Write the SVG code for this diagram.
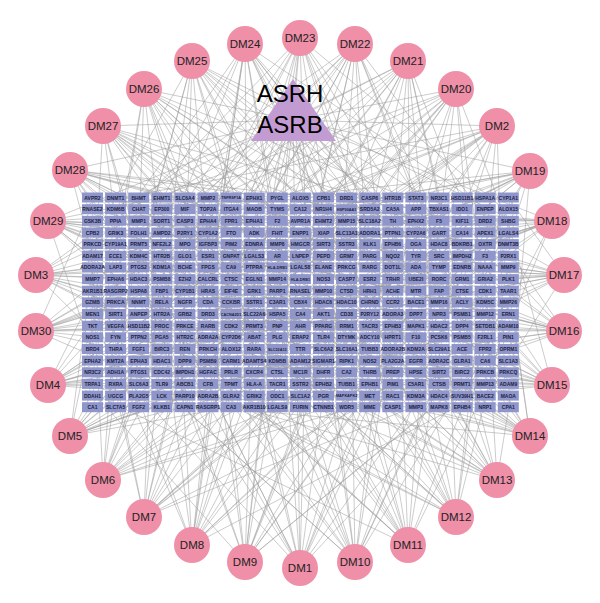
<svg xmlns="http://www.w3.org/2000/svg" xmlns:xlink="http://www.w3.org/1999/xlink" width="600" height="603" viewBox="0 0 600 603">
<style>
#edges path{stroke:#9a9a9a;stroke-width:.6;fill:none;stroke-opacity:.85}
#dms circle{fill:#EF8FA8}
#dms text{font-family:'Liberation Sans',Arial,sans-serif;font-size:11.5px;fill:#222;text-anchor:middle}
#genes use{fill:#8F96CC}
#genes text{font-family:'Liberation Sans',Arial,sans-serif;font-size:5px;font-weight:bold;fill:#1e1e3c;text-anchor:middle}
#genes text.s{font-size:3.8px}
#herb text{font-family:'Liberation Sans',Arial,sans-serif;font-size:24px;fill:#000;text-anchor:middle}
</style>
<defs><rect id="b" x="-10.5" y="-5" width="21" height="10"/></defs>
<rect width="600" height="603" fill="#fff"/>
<g id="edges">
<path d="M293 120L300 38M293 120L355 44M293 120L408 61M293 120L456 89M293 120L497 126M293 120L530 171M293 120L552 221M293 120L564 275M293 120L564 331M293 120L552 385M293 120L530 436M293 120L497 480M293 120L456 517M293 120L408 545M293 120L355 562M293 120L300 568M293 120L245 562M293 120L192 545M293 120L144 517M293 120L103 480M293 120L70 436M293 120L48 385M293 120L36 331M293 120L36 275M293 120L48 221M293 120L70 170M293 120L103 126M293 120L144 89M293 120L192 61M293 120L245 44"/>
<path d="M300 38L95 250M300 38L140 330M300 38L180 210M300 38L210 395M300 38L255 300M300 38L280 220M300 38L310 370M300 38L335 260M300 38L360 200M300 38L390 320M300 38L420 240M300 38L455 390M300 38L480 280M300 38L505 210M300 38L120 400M300 38L230 260"/>
<path d="M355 44L100 300M355 44L130 205M355 44L170 380M355 44L200 260M355 44L240 330M355 44L270 200M355 44L300 280M355 44L330 400M355 44L365 230M355 44L395 350M355 44L430 205M355 44L460 300M355 44L490 390M355 44L510 250M355 44L150 240M355 44L285 350"/>
<path d="M408 61L90 220M408 61L125 350M408 61L165 265M408 61L195 205M408 61L225 400M408 61L260 240M408 61L295 330M408 61L325 210M408 61L350 300M408 61L380 380M408 61L410 250M408 61L445 220M408 61L470 340M408 61L500 300M408 61L215 300M408 61L440 400"/>
<path d="M456 89L95 380M456 89L120 240M456 89L150 200M456 89L185 320M456 89L220 230M456 89L250 370M456 89L280 290M456 89L315 240M456 89L345 390M456 89L370 210M456 89L400 300M456 89L435 260M456 89L465 200M456 89L495 360M456 89L510 230M456 89L175 400"/>
<path d="M497 126L90 290M497 126L110 200M497 126L145 395M497 126L175 250M497 126L205 340M497 126L240 210M497 126L265 280M497 126L300 400M497 126L330 230M497 126L360 330M497 126L390 200M497 126L420 370M497 126L450 240M497 126L480 310M497 126L505 390M497 126L320 310"/>
<path d="M530 171L88 330M530 171L115 260M530 171L160 210M530 171L190 370M530 171L230 290M530 171L260 390M530 171L290 215M530 171L320 340M530 171L350 260M530 171L385 400M530 171L415 230M530 171L440 330M530 171L470 200M530 171L500 270M530 171L515 350M530 171L200 230"/>
<path d="M552 221L90 200M552 221L120 380M552 221L150 290M552 221L185 220M552 221L215 350M552 221L250 250M552 221L285 400M552 221L310 300M552 221L345 215M552 221L375 360M552 221L405 280M552 221L430 210M552 221L465 390M552 221L490 240M552 221L512 320M552 221L160 340"/>
<path d="M564 275L85 250M564 275L110 360M564 275L140 215M564 275L175 300M564 275L205 395M564 275L235 230M564 275L270 330M564 275L305 205M564 275L335 380M564 275L365 280M564 275L395 220M564 275L425 350M564 275L455 270M564 275L485 400M564 275L510 200M564 275L240 300"/>
<path d="M564 331L95 210M564 331L125 300M564 331L155 390M564 331L190 240M564 331L220 320M564 331L250 205M564 331L280 370M564 331L315 270M564 331L345 330M564 331L375 200M564 331L400 390M564 331L435 290M564 331L460 220M564 331L495 350M564 331L515 260M564 331L130 260"/>
<path d="M552 385L90 370M552 385L115 230M552 385L150 320M552 385L180 200M552 385L210 280M552 385L245 400M552 385L275 250M552 385L300 330M552 385L330 210M552 385L360 350M552 385L390 270M552 385L420 400M552 385L450 230M552 385L475 300M552 385L505 210M552 385L190 360"/>
<path d="M530 436L100 260M530 436L135 400M530 436L165 230M530 436L195 330M530 436L225 210M530 436L260 300M530 436L290 380M530 436L320 240M530 436L355 320M530 436L385 205M530 436L410 360M530 436L440 280M530 436L470 390M530 436L500 230M530 436L515 330M530 436L240 360"/>
<path d="M497 480L88 210M497 480L120 330M497 480L155 260M497 480L180 390M497 480L215 240M497 480L245 350M497 480L280 210M497 480L310 300M497 480L340 395M497 480L370 250M497 480L400 330M497 480L430 210M497 480L455 360M497 480L485 280M497 480L510 400M497 480L270 260"/>
<path d="M456 517L92 300M456 517L125 215M456 517L160 370M456 517L195 280M456 517L230 400M456 517L255 220M456 517L290 340M456 517L320 260M456 517L350 210M456 517L380 390M456 517L410 300M456 517L445 240M456 517L475 350M456 517L500 210M456 517L515 280M456 517L150 250"/>
<path d="M408 545L85 390M408 545L115 280M408 545L150 210M408 545L180 340M408 545L210 260M408 545L240 390M408 545L270 300M408 545L305 220M408 545L335 370M408 545L365 280M408 545L395 210M408 545L425 330M408 545L455 260M408 545L480 400M408 545L505 300M408 545L200 210"/>
<path d="M355 562L95 230M355 562L130 360M355 562L160 290M355 562L200 210M355 562L230 330M355 562L260 250M355 562L295 400M355 562L325 310M355 562L350 230M355 562L380 350M355 562L410 220M355 562L440 380M355 562L470 250M355 562L495 330M355 562L515 210M355 562L175 400"/>
<path d="M300 568L90 340M300 568L120 210M300 568L150 300M300 568L185 390M300 568L215 230M300 568L245 320M300 568L275 205M300 568L305 360M300 568L340 270M300 568L365 400M300 568L395 240M300 568L425 310M300 568L455 200M300 568L485 370M300 568L510 270M300 568L140 250"/>
<path d="M245 562L100 400M245 562L130 250M245 562L165 330M245 562L195 210M245 562L225 370M245 562L255 280M245 562L285 220M245 562L315 390M245 562L345 300M245 562L375 210M245 562L405 340M245 562L435 250M245 562L465 380M245 562L495 220M245 562L515 340M245 562L290 300"/>
<path d="M192 545L88 260M192 545L118 370M192 545L148 220M192 545L178 310M192 545L208 400M192 545L238 240M192 545L268 340M192 545L298 210M192 545L328 290M192 545L358 390M192 545L388 250M192 545L418 330M192 545L448 210M192 545L478 300M192 545L508 380M192 545L225 300"/>
<path d="M144 517L95 300M144 517L120 400M144 517L155 240M144 517L185 350M144 517L215 205M144 517L250 300M144 517L280 390M144 517L310 250M144 517L340 340M144 517L370 220M144 517L400 310M144 517L430 400M144 517L460 270M144 517L490 210M144 517L512 330M144 517L170 270"/>
<path d="M103 480L90 220M103 480L115 320M103 480L140 390M103 480L175 260M103 480L205 210M103 480L235 350M103 480L265 280M103 480L295 400M103 480L325 230M103 480L355 320M103 480L385 260M103 480L415 390M103 480L445 300M103 480L475 220M103 480L505 350M103 480L130 280"/>
<path d="M70 436L92 270M70 436L120 200M70 436L145 350M70 436L175 230M70 436L200 390M70 436L230 300M70 436L262 220M70 436L290 360M70 436L322 280M70 436L352 205M70 436L382 380M70 436L412 260M70 436L442 340M70 436L472 230M70 436L502 290M70 436L160 400"/>
<path d="M48 385L88 380M48 385L110 260M48 385L140 330M48 385L170 210M48 385L200 300M48 385L232 380M48 385L262 240M48 385L292 320M48 385L322 200M48 385L352 360M48 385L382 290M48 385L412 220M48 385L442 390M48 385L472 320M48 385L505 250M48 385L250 400"/>
<path d="M36 331L90 210M36 331L118 300M36 331L148 380M36 331L178 250M36 331L208 330M36 331L238 210M36 331L268 290M36 331L298 390M36 331L328 240M36 331L358 320M36 331L388 210M36 331L418 370M36 331L448 280M36 331L478 200M36 331L508 310M36 331L210 260"/>
<path d="M36 275L88 300M36 275L112 220M36 275L142 380M36 275L172 280M36 275L202 200M36 275L232 330M36 275L262 260M36 275L292 210M36 275L322 380M36 275L352 290M36 275L382 230M36 275L412 340M36 275L442 260M36 275L472 390M36 275L505 220M36 275L180 350"/>
<path d="M48 221L95 360M48 221L120 280M48 221L150 200M48 221L182 330M48 221L212 240M48 221L242 400M48 221L272 300M48 221L302 230M48 221L332 350M48 221L362 260M48 221L392 200M48 221L422 380M48 221L452 300M48 221L482 240M48 221L510 370M48 221L230 310"/>
<path d="M70 170L100 230M70 170L128 390M70 170L158 300M70 170L188 200M70 170L218 370M70 170L248 270M70 170L278 210M70 170L308 320M70 170L338 400M70 170L368 250M70 170L398 330M70 170L428 210M70 170L458 360M70 170L488 290M70 170L512 230M70 170L195 290"/>
<path d="M103 126L90 350M103 126L118 240M103 126L152 310M103 126L182 390M103 126L212 210M103 126L242 290M103 126L272 370M103 126L302 260M103 126L332 210M103 126L362 340M103 126L392 400M103 126L422 280M103 126L452 220M103 126L482 330M103 126L510 390M103 126L300 350"/>
<path d="M144 89L88 400M144 89L115 270M144 89L140 205M144 89L172 340M144 89L202 250M144 89L232 380M144 89L262 220M144 89L292 300M144 89L322 390M144 89L352 230M144 89L382 310M144 89L412 200M144 89L442 370M144 89L472 270M144 89L505 330M144 89L230 290"/>
<path d="M192 61L92 240M192 61L122 320M192 61L152 210M192 61L182 380M192 61L212 290M192 61L242 220M192 61L272 350M192 61L302 270M192 61L332 200M192 61L362 360M192 61L392 280M192 61L422 230M192 61L452 400M192 61L482 300M192 61L512 220M192 61L160 300"/>
<path d="M245 44L98 320M245 44L128 210M245 44L158 260M245 44L188 390M245 44L218 230M245 44L248 330M245 44L278 250M245 44L308 400M245 44L338 220M245 44L368 300M245 44L398 380M245 44L428 250M245 44L458 320M245 44L488 210M245 44L508 380M245 44L200 350"/>
</g>
<g id="herb"><polygon points="293,79 251,141 336,141" fill="#C39BD3"/><text x="290" y="102">ASRH</text><text x="290" y="133">ASRB</text></g>
<g id="genes">
<g transform="translate(0,197.5)">
<g id="g-AVPR2" transform="translate(92.5)"><use href="#b"/><text y="2">AVPR2</text></g>
<g id="g-DNMT1" transform="translate(115.6)"><use href="#b"/><text y="2">DNMT1</text></g>
<g id="g-BHMT" transform="translate(138.7)"><use href="#b"/><text y="2">BHMT</text></g>
<g id="g-EHMT1" transform="translate(161.8)"><use href="#b"/><text y="2">EHMT1</text></g>
<g id="g-SLC6A4" transform="translate(184.9)"><use href="#b"/><text y="2">SLC6A4</text></g>
<g id="g-MMP2" transform="translate(208)"><use href="#b"/><text y="2">MMP2</text></g>
<g id="g-TNFRSF1A" transform="translate(231.1)"><use href="#b"/><text y="1.6" class="s">TNFRSF1A</text></g>
<g id="g-EPHX1" transform="translate(254.2)"><use href="#b"/><text y="2">EPHX1</text></g>
<g id="g-PYGL" transform="translate(277.3)"><use href="#b"/><text y="2">PYGL</text></g>
<g id="g-ALOX5" transform="translate(300.4)"><use href="#b"/><text y="2">ALOX5</text></g>
<g id="g-CPB1" transform="translate(323.5)"><use href="#b"/><text y="2">CPB1</text></g>
<g id="g-DRD1" transform="translate(346.6)"><use href="#b"/><text y="2">DRD1</text></g>
<g id="g-CASP8" transform="translate(369.7)"><use href="#b"/><text y="2">CASP8</text></g>
<g id="g-HTR1B" transform="translate(392.8)"><use href="#b"/><text y="2">HTR1B</text></g>
<g id="g-STAT3" transform="translate(415.9)"><use href="#b"/><text y="2">STAT3</text></g>
<g id="g-NR3C1" transform="translate(439)"><use href="#b"/><text y="2">NR3C1</text></g>
<g id="g-HSD11B1" transform="translate(462.1)"><use href="#b"/><text y="2">HSD11B1</text></g>
<g id="g-HSPA1A" transform="translate(485.2)"><use href="#b"/><text y="2">HSPA1A</text></g>
<g id="g-CYP1A1" transform="translate(508.3)"><use href="#b"/><text y="2">CYP1A1</text></g>
</g>
<g transform="translate(0,209.2)">
<g id="g-RNASE2" transform="translate(92.5)"><use href="#b"/><text y="2">RNASE2</text></g>
<g id="g-KDM6B" transform="translate(115.6)"><use href="#b"/><text y="2">KDM6B</text></g>
<g id="g-CHAT" transform="translate(138.7)"><use href="#b"/><text y="2">CHAT</text></g>
<g id="g-EP300" transform="translate(161.8)"><use href="#b"/><text y="2">EP300</text></g>
<g id="g-MIF" transform="translate(184.9)"><use href="#b"/><text y="2">MIF</text></g>
<g id="g-TOP2A" transform="translate(208)"><use href="#b"/><text y="2">TOP2A</text></g>
<g id="g-ITGA4" transform="translate(231.1)"><use href="#b"/><text y="2">ITGA4</text></g>
<g id="g-MAOB" transform="translate(254.2)"><use href="#b"/><text y="2">MAOB</text></g>
<g id="g-TYMS" transform="translate(277.3)"><use href="#b"/><text y="2">TYMS</text></g>
<g id="g-CA12" transform="translate(300.4)"><use href="#b"/><text y="2">CA12</text></g>
<g id="g-NR1H4" transform="translate(323.5)"><use href="#b"/><text y="2">NR1H4</text></g>
<g id="g-HSP90AA1" transform="translate(346.6)"><use href="#b"/><text y="1.6" class="s">HSP90AA1</text></g>
<g id="g-SRD5A2" transform="translate(369.7)"><use href="#b"/><text y="2">SRD5A2</text></g>
<g id="g-CA5A" transform="translate(392.8)"><use href="#b"/><text y="2">CA5A</text></g>
<g id="g-APP" transform="translate(415.9)"><use href="#b"/><text y="2">APP</text></g>
<g id="g-TBXAS1" transform="translate(439)"><use href="#b"/><text y="2">TBXAS1</text></g>
<g id="g-IDO1" transform="translate(462.1)"><use href="#b"/><text y="2">IDO1</text></g>
<g id="g-ENPEP" transform="translate(485.2)"><use href="#b"/><text y="2">ENPEP</text></g>
<g id="g-ALOX15" transform="translate(508.3)"><use href="#b"/><text y="2">ALOX15</text></g>
</g>
<g transform="translate(0,220.8)">
<g id="g-GSK3B" transform="translate(92.5)"><use href="#b"/><text y="2">GSK3B</text></g>
<g id="g-PPIA" transform="translate(115.6)"><use href="#b"/><text y="2">PPIA</text></g>
<g id="g-MMP1" transform="translate(138.7)"><use href="#b"/><text y="2">MMP1</text></g>
<g id="g-SORT1" transform="translate(161.8)"><use href="#b"/><text y="2">SORT1</text></g>
<g id="g-CASP3" transform="translate(184.9)"><use href="#b"/><text y="2">CASP3</text></g>
<g id="g-EPHA4" transform="translate(208)"><use href="#b"/><text y="2">EPHA4</text></g>
<g id="g-FPR1" transform="translate(231.1)"><use href="#b"/><text y="2">FPR1</text></g>
<g id="g-EPHA1" transform="translate(254.2)"><use href="#b"/><text y="2">EPHA1</text></g>
<g id="g-F2" transform="translate(277.3)"><use href="#b"/><text y="2">F2</text></g>
<g id="g-AVPR1A" transform="translate(300.4)"><use href="#b"/><text y="2">AVPR1A</text></g>
<g id="g-EHMT2" transform="translate(323.5)"><use href="#b"/><text y="2">EHMT2</text></g>
<g id="g-MMP15" transform="translate(346.6)"><use href="#b"/><text y="2">MMP15</text></g>
<g id="g-SLC18A2" transform="translate(369.7)"><use href="#b"/><text y="2">SLC18A2</text></g>
<g id="g-TH" transform="translate(392.8)"><use href="#b"/><text y="2">TH</text></g>
<g id="g-EPHX2" transform="translate(415.9)"><use href="#b"/><text y="2">EPHX2</text></g>
<g id="g-F5" transform="translate(439)"><use href="#b"/><text y="2">F5</text></g>
<g id="g-KIF11" transform="translate(462.1)"><use href="#b"/><text y="2">KIF11</text></g>
<g id="g-DRD2" transform="translate(485.2)"><use href="#b"/><text y="2">DRD2</text></g>
<g id="g-SHBG" transform="translate(508.3)"><use href="#b"/><text y="2">SHBG</text></g>
</g>
<g transform="translate(0,232.5)">
<g id="g-CPB2" transform="translate(92.5)"><use href="#b"/><text y="2">CPB2</text></g>
<g id="g-GRIK3" transform="translate(115.6)"><use href="#b"/><text y="2">GRIK3</text></g>
<g id="g-FOLH1" transform="translate(138.7)"><use href="#b"/><text y="2">FOLH1</text></g>
<g id="g-AMPD2" transform="translate(161.8)"><use href="#b"/><text y="2">AMPD2</text></g>
<g id="g-P2RY1" transform="translate(184.9)"><use href="#b"/><text y="2">P2RY1</text></g>
<g id="g-CYP1A2" transform="translate(208)"><use href="#b"/><text y="2">CYP1A2</text></g>
<g id="g-FTO" transform="translate(231.1)"><use href="#b"/><text y="2">FTO</text></g>
<g id="g-ADK" transform="translate(254.2)"><use href="#b"/><text y="2">ADK</text></g>
<g id="g-FHIT" transform="translate(277.3)"><use href="#b"/><text y="2">FHIT</text></g>
<g id="g-ENPP1" transform="translate(300.4)"><use href="#b"/><text y="2">ENPP1</text></g>
<g id="g-XIAP" transform="translate(323.5)"><use href="#b"/><text y="2">XIAP</text></g>
<g id="g-SLC13A1" transform="translate(346.6)"><use href="#b"/><text y="2">SLC13A1</text></g>
<g id="g-ADORA1" transform="translate(369.7)"><use href="#b"/><text y="2">ADORA1</text></g>
<g id="g-PTPN1" transform="translate(392.8)"><use href="#b"/><text y="2">PTPN1</text></g>
<g id="g-CYP2A6" transform="translate(415.9)"><use href="#b"/><text y="2">CYP2A6</text></g>
<g id="g-GART" transform="translate(439)"><use href="#b"/><text y="2">GART</text></g>
<g id="g-CA14" transform="translate(462.1)"><use href="#b"/><text y="2">CA14</text></g>
<g id="g-APEX1" transform="translate(485.2)"><use href="#b"/><text y="2">APEX1</text></g>
<g id="g-LGALS4" transform="translate(508.3)"><use href="#b"/><text y="2">LGALS4</text></g>
</g>
<g transform="translate(0,244.1)">
<g id="g-PRKCD" transform="translate(92.5)"><use href="#b"/><text y="2">PRKCD</text></g>
<g id="g-CYP19A1" transform="translate(115.6)"><use href="#b"/><text y="2">CYP19A1</text></g>
<g id="g-PRMT5" transform="translate(138.7)"><use href="#b"/><text y="2">PRMT5</text></g>
<g id="g-NFE2L2" transform="translate(161.8)"><use href="#b"/><text y="2">NFE2L2</text></g>
<g id="g-MPO" transform="translate(184.9)"><use href="#b"/><text y="2">MPO</text></g>
<g id="g-IGFBP3" transform="translate(208)"><use href="#b"/><text y="2">IGFBP3</text></g>
<g id="g-PIM2" transform="translate(231.1)"><use href="#b"/><text y="2">PIM2</text></g>
<g id="g-EDNRA" transform="translate(254.2)"><use href="#b"/><text y="2">EDNRA</text></g>
<g id="g-MMP8" transform="translate(277.3)"><use href="#b"/><text y="2">MMP8</text></g>
<g id="g-HMGCR" transform="translate(300.4)"><use href="#b"/><text y="2">HMGCR</text></g>
<g id="g-SIRT3" transform="translate(323.5)"><use href="#b"/><text y="2">SIRT3</text></g>
<g id="g-SSTR3" transform="translate(346.6)"><use href="#b"/><text y="2">SSTR3</text></g>
<g id="g-KLK1" transform="translate(369.7)"><use href="#b"/><text y="2">KLK1</text></g>
<g id="g-EPHB6" transform="translate(392.8)"><use href="#b"/><text y="2">EPHB6</text></g>
<g id="g-OGA" transform="translate(415.9)"><use href="#b"/><text y="2">OGA</text></g>
<g id="g-HDAC8" transform="translate(439)"><use href="#b"/><text y="2">HDAC8</text></g>
<g id="g-BDKRB1" transform="translate(462.1)"><use href="#b"/><text y="2">BDKRB1</text></g>
<g id="g-OXTR" transform="translate(485.2)"><use href="#b"/><text y="2">OXTR</text></g>
<g id="g-DNMT3B" transform="translate(508.3)"><use href="#b"/><text y="2">DNMT3B</text></g>
</g>
<g transform="translate(0,255.8)">
<g id="g-ADAM17" transform="translate(92.5)"><use href="#b"/><text y="2">ADAM17</text></g>
<g id="g-ECE1" transform="translate(115.6)"><use href="#b"/><text y="2">ECE1</text></g>
<g id="g-KDM4C" transform="translate(138.7)"><use href="#b"/><text y="2">KDM4C</text></g>
<g id="g-HTR2B" transform="translate(161.8)"><use href="#b"/><text y="2">HTR2B</text></g>
<g id="g-GLO1" transform="translate(184.9)"><use href="#b"/><text y="2">GLO1</text></g>
<g id="g-ESR1" transform="translate(208)"><use href="#b"/><text y="2">ESR1</text></g>
<g id="g-GNPAT" transform="translate(231.1)"><use href="#b"/><text y="2">GNPAT</text></g>
<g id="g-LGALS3" transform="translate(254.2)"><use href="#b"/><text y="2">LGALS3</text></g>
<g id="g-AR" transform="translate(277.3)"><use href="#b"/><text y="2">AR</text></g>
<g id="g-LNPEP" transform="translate(300.4)"><use href="#b"/><text y="2">LNPEP</text></g>
<g id="g-PEPD" transform="translate(323.5)"><use href="#b"/><text y="2">PEPD</text></g>
<g id="g-GRM7" transform="translate(346.6)"><use href="#b"/><text y="2">GRM7</text></g>
<g id="g-PARG" transform="translate(369.7)"><use href="#b"/><text y="2">PARG</text></g>
<g id="g-NQO2" transform="translate(392.8)"><use href="#b"/><text y="2">NQO2</text></g>
<g id="g-TYR" transform="translate(415.9)"><use href="#b"/><text y="2">TYR</text></g>
<g id="g-SRC" transform="translate(439)"><use href="#b"/><text y="2">SRC</text></g>
<g id="g-IMPDH2" transform="translate(462.1)"><use href="#b"/><text y="2">IMPDH2</text></g>
<g id="g-F3" transform="translate(485.2)"><use href="#b"/><text y="2">F3</text></g>
<g id="g-P2RX1" transform="translate(508.3)"><use href="#b"/><text y="2">P2RX1</text></g>
</g>
<g transform="translate(0,267.4)">
<g id="g-ADORA2A" transform="translate(92.5)"><use href="#b"/><text y="2">ADORA2A</text></g>
<g id="g-LAP3" transform="translate(115.6)"><use href="#b"/><text y="2">LAP3</text></g>
<g id="g-PTGS2" transform="translate(138.7)"><use href="#b"/><text y="2">PTGS2</text></g>
<g id="g-KDM1A" transform="translate(161.8)"><use href="#b"/><text y="2">KDM1A</text></g>
<g id="g-BCHE" transform="translate(184.9)"><use href="#b"/><text y="2">BCHE</text></g>
<g id="g-FPGS" transform="translate(208)"><use href="#b"/><text y="2">FPGS</text></g>
<g id="g-CA9" transform="translate(231.1)"><use href="#b"/><text y="2">CA9</text></g>
<g id="g-PTPRA" transform="translate(254.2)"><use href="#b"/><text y="2">PTPRA</text></g>
<g id="g-HLA-DRB1-a" transform="translate(277.3)"><use href="#b"/><text y="1.6" class="s">HLA-DRB1</text></g>
<g id="g-LGALS8" transform="translate(300.4)"><use href="#b"/><text y="2">LGALS8</text></g>
<g id="g-ELANE" transform="translate(323.5)"><use href="#b"/><text y="2">ELANE</text></g>
<g id="g-PRKCG" transform="translate(346.6)"><use href="#b"/><text y="2">PRKCG</text></g>
<g id="g-RARG" transform="translate(369.7)"><use href="#b"/><text y="2">RARG</text></g>
<g id="g-DOT1L" transform="translate(392.8)"><use href="#b"/><text y="2">DOT1L</text></g>
<g id="g-ADA" transform="translate(415.9)"><use href="#b"/><text y="2">ADA</text></g>
<g id="g-TYMP" transform="translate(439)"><use href="#b"/><text y="2">TYMP</text></g>
<g id="g-EDNRB" transform="translate(462.1)"><use href="#b"/><text y="2">EDNRB</text></g>
<g id="g-NAAA" transform="translate(485.2)"><use href="#b"/><text y="2">NAAA</text></g>
<g id="g-MMP9" transform="translate(508.3)"><use href="#b"/><text y="2">MMP9</text></g>
</g>
<g transform="translate(0,279.1)">
<g id="g-MMP7" transform="translate(92.5)"><use href="#b"/><text y="2">MMP7</text></g>
<g id="g-EPHA6" transform="translate(115.6)"><use href="#b"/><text y="2">EPHA6</text></g>
<g id="g-HDAC3" transform="translate(138.7)"><use href="#b"/><text y="2">HDAC3</text></g>
<g id="g-PSMB8" transform="translate(161.8)"><use href="#b"/><text y="2">PSMB8</text></g>
<g id="g-EZH2" transform="translate(184.9)"><use href="#b"/><text y="2">EZH2</text></g>
<g id="g-CALCRL" transform="translate(208)"><use href="#b"/><text y="2">CALCRL</text></g>
<g id="g-CTSC" transform="translate(231.1)"><use href="#b"/><text y="2">CTSC</text></g>
<g id="g-EGLN1" transform="translate(254.2)"><use href="#b"/><text y="2">EGLN1</text></g>
<g id="g-MMP14" transform="translate(277.3)"><use href="#b"/><text y="2">MMP14</text></g>
<g id="g-HLA-DRB1-b" transform="translate(300.4)"><use href="#b"/><text y="1.6" class="s">HLA-DRB1</text></g>
<g id="g-NOS3" transform="translate(323.5)"><use href="#b"/><text y="2">NOS3</text></g>
<g id="g-CASP7" transform="translate(346.6)"><use href="#b"/><text y="2">CASP7</text></g>
<g id="g-ESR2" transform="translate(369.7)"><use href="#b"/><text y="2">ESR2</text></g>
<g id="g-TRHR" transform="translate(392.8)"><use href="#b"/><text y="2">TRHR</text></g>
<g id="g-UBE2I" transform="translate(415.9)"><use href="#b"/><text y="2">UBE2I</text></g>
<g id="g-RORC" transform="translate(439)"><use href="#b"/><text y="2">RORC</text></g>
<g id="g-GRM1" transform="translate(462.1)"><use href="#b"/><text y="2">GRM1</text></g>
<g id="g-GRIA2" transform="translate(485.2)"><use href="#b"/><text y="2">GRIA2</text></g>
<g id="g-PLK1" transform="translate(508.3)"><use href="#b"/><text y="2">PLK1</text></g>
</g>
<g transform="translate(0,290.7)">
<g id="g-AKR1B1" transform="translate(92.5)"><use href="#b"/><text y="2">AKR1B1</text></g>
<g id="g-RASGRP2" transform="translate(115.6)"><use href="#b"/><text y="2">RASGRP2</text></g>
<g id="g-HSPA8" transform="translate(138.7)"><use href="#b"/><text y="2">HSPA8</text></g>
<g id="g-FBP1" transform="translate(161.8)"><use href="#b"/><text y="2">FBP1</text></g>
<g id="g-CYP1B1" transform="translate(184.9)"><use href="#b"/><text y="2">CYP1B1</text></g>
<g id="g-HRAS" transform="translate(208)"><use href="#b"/><text y="2">HRAS</text></g>
<g id="g-EIF4E" transform="translate(231.1)"><use href="#b"/><text y="2">EIF4E</text></g>
<g id="g-GRK1" transform="translate(254.2)"><use href="#b"/><text y="2">GRK1</text></g>
<g id="g-PARP1" transform="translate(277.3)"><use href="#b"/><text y="2">PARP1</text></g>
<g id="g-RNASEL" transform="translate(300.4)"><use href="#b"/><text y="2">RNASEL</text></g>
<g id="g-MMP10" transform="translate(323.5)"><use href="#b"/><text y="2">MMP10</text></g>
<g id="g-CTSD" transform="translate(346.6)"><use href="#b"/><text y="2">CTSD</text></g>
<g id="g-HRH1" transform="translate(369.7)"><use href="#b"/><text y="2">HRH1</text></g>
<g id="g-ACHE" transform="translate(392.8)"><use href="#b"/><text y="2">ACHE</text></g>
<g id="g-MTR" transform="translate(415.9)"><use href="#b"/><text y="2">MTR</text></g>
<g id="g-FAP" transform="translate(439)"><use href="#b"/><text y="2">FAP</text></g>
<g id="g-CTSE" transform="translate(462.1)"><use href="#b"/><text y="2">CTSE</text></g>
<g id="g-CDK1" transform="translate(485.2)"><use href="#b"/><text y="2">CDK1</text></g>
<g id="g-TAAR1" transform="translate(508.3)"><use href="#b"/><text y="2">TAAR1</text></g>
</g>
<g transform="translate(0,302.4)">
<g id="g-GZMB" transform="translate(92.5)"><use href="#b"/><text y="2">GZMB</text></g>
<g id="g-PRKCA" transform="translate(115.6)"><use href="#b"/><text y="2">PRKCA</text></g>
<g id="g-NNMT" transform="translate(138.7)"><use href="#b"/><text y="2">NNMT</text></g>
<g id="g-RELA" transform="translate(161.8)"><use href="#b"/><text y="2">RELA</text></g>
<g id="g-NGFR" transform="translate(184.9)"><use href="#b"/><text y="2">NGFR</text></g>
<g id="g-CDA" transform="translate(208)"><use href="#b"/><text y="2">CDA</text></g>
<g id="g-CCKBR" transform="translate(231.1)"><use href="#b"/><text y="2">CCKBR</text></g>
<g id="g-SSTR1" transform="translate(254.2)"><use href="#b"/><text y="2">SSTR1</text></g>
<g id="g-C3AR1" transform="translate(277.3)"><use href="#b"/><text y="2">C3AR1</text></g>
<g id="g-CBX4" transform="translate(300.4)"><use href="#b"/><text y="2">CBX4</text></g>
<g id="g-HDAC6" transform="translate(323.5)"><use href="#b"/><text y="2">HDAC6</text></g>
<g id="g-HDAC10" transform="translate(346.6)"><use href="#b"/><text y="2">HDAC10</text></g>
<g id="g-CHRND" transform="translate(369.7)"><use href="#b"/><text y="2">CHRND</text></g>
<g id="g-CCR2" transform="translate(392.8)"><use href="#b"/><text y="2">CCR2</text></g>
<g id="g-BACE1" transform="translate(415.9)"><use href="#b"/><text y="2">BACE1</text></g>
<g id="g-MMP16" transform="translate(439)"><use href="#b"/><text y="2">MMP16</text></g>
<g id="g-ACLY" transform="translate(462.1)"><use href="#b"/><text y="2">ACLY</text></g>
<g id="g-KDM5C" transform="translate(485.2)"><use href="#b"/><text y="2">KDM5C</text></g>
<g id="g-MMP26" transform="translate(508.3)"><use href="#b"/><text y="2">MMP26</text></g>
</g>
<g transform="translate(0,314)">
<g id="g-MEN1" transform="translate(92.5)"><use href="#b"/><text y="2">MEN1</text></g>
<g id="g-SIRT1" transform="translate(115.6)"><use href="#b"/><text y="2">SIRT1</text></g>
<g id="g-ANPEP" transform="translate(138.7)"><use href="#b"/><text y="2">ANPEP</text></g>
<g id="g-HTR2A" transform="translate(161.8)"><use href="#b"/><text y="2">HTR2A</text></g>
<g id="g-GRB2" transform="translate(184.9)"><use href="#b"/><text y="2">GRB2</text></g>
<g id="g-DRD3" transform="translate(208)"><use href="#b"/><text y="2">DRD3</text></g>
<g id="g-CACNA2D1" transform="translate(231.1)"><use href="#b"/><text y="1.6" class="s">CACNA2D1</text></g>
<g id="g-SLC22A6" transform="translate(254.2)"><use href="#b"/><text y="2">SLC22A6</text></g>
<g id="g-HSPA5" transform="translate(277.3)"><use href="#b"/><text y="2">HSPA5</text></g>
<g id="g-CA4" transform="translate(300.4)"><use href="#b"/><text y="2">CA4</text></g>
<g id="g-AKT1" transform="translate(323.5)"><use href="#b"/><text y="2">AKT1</text></g>
<g id="g-CD38" transform="translate(346.6)"><use href="#b"/><text y="2">CD38</text></g>
<g id="g-P2RY12" transform="translate(369.7)"><use href="#b"/><text y="2">P2RY12</text></g>
<g id="g-ADORA3" transform="translate(392.8)"><use href="#b"/><text y="2">ADORA3</text></g>
<g id="g-DPP7" transform="translate(415.9)"><use href="#b"/><text y="2">DPP7</text></g>
<g id="g-NPR3" transform="translate(439)"><use href="#b"/><text y="2">NPR3</text></g>
<g id="g-PSMB1" transform="translate(462.1)"><use href="#b"/><text y="2">PSMB1</text></g>
<g id="g-MMP12" transform="translate(485.2)"><use href="#b"/><text y="2">MMP12</text></g>
<g id="g-ERN1" transform="translate(508.3)"><use href="#b"/><text y="2">ERN1</text></g>
</g>
<g transform="translate(0,325.7)">
<g id="g-TKT" transform="translate(92.5)"><use href="#b"/><text y="2">TKT</text></g>
<g id="g-VEGFA" transform="translate(115.6)"><use href="#b"/><text y="2">VEGFA</text></g>
<g id="g-HSD11B2" transform="translate(138.7)"><use href="#b"/><text y="2">HSD11B2</text></g>
<g id="g-PROC" transform="translate(161.8)"><use href="#b"/><text y="2">PROC</text></g>
<g id="g-PRKCE" transform="translate(184.9)"><use href="#b"/><text y="2">PRKCE</text></g>
<g id="g-RARB" transform="translate(208)"><use href="#b"/><text y="2">RARB</text></g>
<g id="g-CDK2" transform="translate(231.1)"><use href="#b"/><text y="2">CDK2</text></g>
<g id="g-PRMT3" transform="translate(254.2)"><use href="#b"/><text y="2">PRMT3</text></g>
<g id="g-PNP" transform="translate(277.3)"><use href="#b"/><text y="2">PNP</text></g>
<g id="g-AHR" transform="translate(300.4)"><use href="#b"/><text y="2">AHR</text></g>
<g id="g-PPARG" transform="translate(323.5)"><use href="#b"/><text y="2">PPARG</text></g>
<g id="g-RRM1" transform="translate(346.6)"><use href="#b"/><text y="2">RRM1</text></g>
<g id="g-TACR3" transform="translate(369.7)"><use href="#b"/><text y="2">TACR3</text></g>
<g id="g-EPHB3" transform="translate(392.8)"><use href="#b"/><text y="2">EPHB3</text></g>
<g id="g-MAPK1" transform="translate(415.9)"><use href="#b"/><text y="2">MAPK1</text></g>
<g id="g-HDAC2" transform="translate(439)"><use href="#b"/><text y="2">HDAC2</text></g>
<g id="g-DPP4" transform="translate(462.1)"><use href="#b"/><text y="2">DPP4</text></g>
<g id="g-SETDB1" transform="translate(485.2)"><use href="#b"/><text y="2">SETDB1</text></g>
<g id="g-ADAM10" transform="translate(508.3)"><use href="#b"/><text y="2">ADAM10</text></g>
</g>
<g transform="translate(0,337.3)">
<g id="g-NOS1" transform="translate(92.5)"><use href="#b"/><text y="2">NOS1</text></g>
<g id="g-FYN" transform="translate(115.6)"><use href="#b"/><text y="2">FYN</text></g>
<g id="g-PTPN2" transform="translate(138.7)"><use href="#b"/><text y="2">PTPN2</text></g>
<g id="g-PGA5" transform="translate(161.8)"><use href="#b"/><text y="2">PGA5</text></g>
<g id="g-HTR2C" transform="translate(184.9)"><use href="#b"/><text y="2">HTR2C</text></g>
<g id="g-ADRA2A" transform="translate(208)"><use href="#b"/><text y="2">ADRA2A</text></g>
<g id="g-CYP2D6" transform="translate(231.1)"><use href="#b"/><text y="2">CYP2D6</text></g>
<g id="g-ABAT" transform="translate(254.2)"><use href="#b"/><text y="2">ABAT</text></g>
<g id="g-PLG" transform="translate(277.3)"><use href="#b"/><text y="2">PLG</text></g>
<g id="g-ERAP2" transform="translate(300.4)"><use href="#b"/><text y="2">ERAP2</text></g>
<g id="g-TLR4" transform="translate(323.5)"><use href="#b"/><text y="2">TLR4</text></g>
<g id="g-DTYMK" transform="translate(346.6)"><use href="#b"/><text y="2">DTYMK</text></g>
<g id="g-ADCY10" transform="translate(369.7)"><use href="#b"/><text y="2">ADCY10</text></g>
<g id="g-HPRT1" transform="translate(392.8)"><use href="#b"/><text y="2">HPRT1</text></g>
<g id="g-F10" transform="translate(415.9)"><use href="#b"/><text y="2">F10</text></g>
<g id="g-PCSK6" transform="translate(439)"><use href="#b"/><text y="2">PCSK6</text></g>
<g id="g-PSMB5" transform="translate(462.1)"><use href="#b"/><text y="2">PSMB5</text></g>
<g id="g-F2RL1" transform="translate(485.2)"><use href="#b"/><text y="2">F2RL1</text></g>
<g id="g-PIN1" transform="translate(508.3)"><use href="#b"/><text y="2">PIN1</text></g>
</g>
<g transform="translate(0,349)">
<g id="g-BRD4" transform="translate(92.5)"><use href="#b"/><text y="2">BRD4</text></g>
<g id="g-THRA" transform="translate(115.6)"><use href="#b"/><text y="2">THRA</text></g>
<g id="g-FGF1" transform="translate(138.7)"><use href="#b"/><text y="2">FGF1</text></g>
<g id="g-BIRC3" transform="translate(161.8)"><use href="#b"/><text y="2">BIRC3</text></g>
<g id="g-REN" transform="translate(184.9)"><use href="#b"/><text y="2">REN</text></g>
<g id="g-PRKCH" transform="translate(208)"><use href="#b"/><text y="2">PRKCH</text></g>
<g id="g-ALOX12" transform="translate(231.1)"><use href="#b"/><text y="2">ALOX12</text></g>
<g id="g-RARA" transform="translate(254.2)"><use href="#b"/><text y="2">RARA</text></g>
<g id="g-SLC22A12" transform="translate(277.3)"><use href="#b"/><text y="1.6" class="s">SLC22A12</text></g>
<g id="g-TTR" transform="translate(300.4)"><use href="#b"/><text y="2">TTR</text></g>
<g id="g-SLC6A2" transform="translate(323.5)"><use href="#b"/><text y="2">SLC6A2</text></g>
<g id="g-SLC16A1" transform="translate(346.6)"><use href="#b"/><text y="2">SLC16A1</text></g>
<g id="g-TUBB3" transform="translate(369.7)"><use href="#b"/><text y="2">TUBB3</text></g>
<g id="g-ADORA2B" transform="translate(392.8)"><use href="#b"/><text y="2">ADORA2B</text></g>
<g id="g-KDM2A" transform="translate(415.9)"><use href="#b"/><text y="2">KDM2A</text></g>
<g id="g-SLC29A1" transform="translate(439)"><use href="#b"/><text y="2">SLC29A1</text></g>
<g id="g-ACE" transform="translate(462.1)"><use href="#b"/><text y="2">ACE</text></g>
<g id="g-FPR2" transform="translate(485.2)"><use href="#b"/><text y="2">FPR2</text></g>
<g id="g-OPRM1" transform="translate(508.3)"><use href="#b"/><text y="2">OPRM1</text></g>
</g>
<g transform="translate(0,360.6)">
<g id="g-EPHA2" transform="translate(92.5)"><use href="#b"/><text y="2">EPHA2</text></g>
<g id="g-KMT2A" transform="translate(115.6)"><use href="#b"/><text y="2">KMT2A</text></g>
<g id="g-EPHA3" transform="translate(138.7)"><use href="#b"/><text y="2">EPHA3</text></g>
<g id="g-HDAC1" transform="translate(161.8)"><use href="#b"/><text y="2">HDAC1</text></g>
<g id="g-DPP9" transform="translate(184.9)"><use href="#b"/><text y="2">DPP9</text></g>
<g id="g-PSMB9" transform="translate(208)"><use href="#b"/><text y="2">PSMB9</text></g>
<g id="g-CARM1" transform="translate(231.1)"><use href="#b"/><text y="2">CARM1</text></g>
<g id="g-ADAMTS4" transform="translate(254.2)"><use href="#b"/><text y="2">ADAMTS4</text></g>
<g id="g-KDM5B" transform="translate(277.3)"><use href="#b"/><text y="2">KDM5B</text></g>
<g id="g-ADAM12" transform="translate(300.4)"><use href="#b"/><text y="2">ADAM12</text></g>
<g id="g-SIGMAR1" transform="translate(323.5)"><use href="#b"/><text y="2">SIGMAR1</text></g>
<g id="g-RIPK1" transform="translate(346.6)"><use href="#b"/><text y="2">RIPK1</text></g>
<g id="g-NOS2" transform="translate(369.7)"><use href="#b"/><text y="2">NOS2</text></g>
<g id="g-PLA2G2A" transform="translate(392.8)"><use href="#b"/><text y="2">PLA2G2A</text></g>
<g id="g-EGFR" transform="translate(415.9)"><use href="#b"/><text y="2">EGFR</text></g>
<g id="g-ADRA2C" transform="translate(439)"><use href="#b"/><text y="2">ADRA2C</text></g>
<g id="g-GLRA1" transform="translate(462.1)"><use href="#b"/><text y="2">GLRA1</text></g>
<g id="g-CA6" transform="translate(485.2)"><use href="#b"/><text y="2">CA6</text></g>
<g id="g-SLC1A3" transform="translate(508.3)"><use href="#b"/><text y="2">SLC1A3</text></g>
</g>
<g transform="translate(0,372.3)">
<g id="g-NR3C2" transform="translate(92.5)"><use href="#b"/><text y="2">NR3C2</text></g>
<g id="g-ADH1A" transform="translate(115.6)"><use href="#b"/><text y="2">ADH1A</text></g>
<g id="g-PTGS1" transform="translate(138.7)"><use href="#b"/><text y="2">PTGS1</text></g>
<g id="g-CDC42" transform="translate(161.8)"><use href="#b"/><text y="2">CDC42</text></g>
<g id="g-IMPDH1" transform="translate(184.9)"><use href="#b"/><text y="2">IMPDH1</text></g>
<g id="g-HGFAC" transform="translate(208)"><use href="#b"/><text y="2">HGFAC</text></g>
<g id="g-PRLR" transform="translate(231.1)"><use href="#b"/><text y="2">PRLR</text></g>
<g id="g-CXCR4" transform="translate(254.2)"><use href="#b"/><text y="2">CXCR4</text></g>
<g id="g-CTSL" transform="translate(277.3)"><use href="#b"/><text y="2">CTSL</text></g>
<g id="g-MC1R" transform="translate(300.4)"><use href="#b"/><text y="2">MC1R</text></g>
<g id="g-DHFR" transform="translate(323.5)"><use href="#b"/><text y="2">DHFR</text></g>
<g id="g-CA2" transform="translate(346.6)"><use href="#b"/><text y="2">CA2</text></g>
<g id="g-THRB" transform="translate(369.7)"><use href="#b"/><text y="2">THRB</text></g>
<g id="g-PREP" transform="translate(392.8)"><use href="#b"/><text y="2">PREP</text></g>
<g id="g-HPSE" transform="translate(415.9)"><use href="#b"/><text y="2">HPSE</text></g>
<g id="g-SIRT2" transform="translate(439)"><use href="#b"/><text y="2">SIRT2</text></g>
<g id="g-BIRC2" transform="translate(462.1)"><use href="#b"/><text y="2">BIRC2</text></g>
<g id="g-PRKCB" transform="translate(485.2)"><use href="#b"/><text y="2">PRKCB</text></g>
<g id="g-PRKCQ" transform="translate(508.3)"><use href="#b"/><text y="2">PRKCQ</text></g>
</g>
<g transform="translate(0,383.9)">
<g id="g-TRPA1" transform="translate(92.5)"><use href="#b"/><text y="2">TRPA1</text></g>
<g id="g-RXRA" transform="translate(115.6)"><use href="#b"/><text y="2">RXRA</text></g>
<g id="g-SLC6A3" transform="translate(138.7)"><use href="#b"/><text y="2">SLC6A3</text></g>
<g id="g-TLR9" transform="translate(161.8)"><use href="#b"/><text y="2">TLR9</text></g>
<g id="g-ABCB1" transform="translate(184.9)"><use href="#b"/><text y="2">ABCB1</text></g>
<g id="g-CFB" transform="translate(208)"><use href="#b"/><text y="2">CFB</text></g>
<g id="g-TPMT" transform="translate(231.1)"><use href="#b"/><text y="2">TPMT</text></g>
<g id="g-HLA-A" transform="translate(254.2)"><use href="#b"/><text y="2">HLA-A</text></g>
<g id="g-TACR1" transform="translate(277.3)"><use href="#b"/><text y="2">TACR1</text></g>
<g id="g-SSTR2" transform="translate(300.4)"><use href="#b"/><text y="2">SSTR2</text></g>
<g id="g-EPHB2" transform="translate(323.5)"><use href="#b"/><text y="2">EPHB2</text></g>
<g id="g-TUBB1" transform="translate(346.6)"><use href="#b"/><text y="2">TUBB1</text></g>
<g id="g-EPHB1" transform="translate(369.7)"><use href="#b"/><text y="2">EPHB1</text></g>
<g id="g-PIM1" transform="translate(392.8)"><use href="#b"/><text y="2">PIM1</text></g>
<g id="g-C5AR1" transform="translate(415.9)"><use href="#b"/><text y="2">C5AR1</text></g>
<g id="g-CTSB" transform="translate(439)"><use href="#b"/><text y="2">CTSB</text></g>
<g id="g-PRMT1" transform="translate(462.1)"><use href="#b"/><text y="2">PRMT1</text></g>
<g id="g-MMP13" transform="translate(485.2)"><use href="#b"/><text y="2">MMP13</text></g>
<g id="g-ADAM9" transform="translate(508.3)"><use href="#b"/><text y="2">ADAM9</text></g>
</g>
<g transform="translate(0,395.6)">
<g id="g-DDAH1" transform="translate(92.5)"><use href="#b"/><text y="2">DDAH1</text></g>
<g id="g-UGCG" transform="translate(115.6)"><use href="#b"/><text y="2">UGCG</text></g>
<g id="g-PLA2G5" transform="translate(138.7)"><use href="#b"/><text y="2">PLA2G5</text></g>
<g id="g-LCK" transform="translate(161.8)"><use href="#b"/><text y="2">LCK</text></g>
<g id="g-PARP10" transform="translate(184.9)"><use href="#b"/><text y="2">PARP10</text></g>
<g id="g-ADRA2B" transform="translate(208)"><use href="#b"/><text y="2">ADRA2B</text></g>
<g id="g-GLRA2" transform="translate(231.1)"><use href="#b"/><text y="2">GLRA2</text></g>
<g id="g-GRIK2" transform="translate(254.2)"><use href="#b"/><text y="2">GRIK2</text></g>
<g id="g-ODC1" transform="translate(277.3)"><use href="#b"/><text y="2">ODC1</text></g>
<g id="g-SLC1A2" transform="translate(300.4)"><use href="#b"/><text y="2">SLC1A2</text></g>
<g id="g-PGR" transform="translate(323.5)"><use href="#b"/><text y="2">PGR</text></g>
<g id="g-MAPKAPK2" transform="translate(346.6)"><use href="#b"/><text y="1.6" class="s">MAPKAPK2</text></g>
<g id="g-MET" transform="translate(369.7)"><use href="#b"/><text y="2">MET</text></g>
<g id="g-RAC1" transform="translate(392.8)"><use href="#b"/><text y="2">RAC1</text></g>
<g id="g-KDM3A" transform="translate(415.9)"><use href="#b"/><text y="2">KDM3A</text></g>
<g id="g-HDAC4" transform="translate(439)"><use href="#b"/><text y="2">HDAC4</text></g>
<g id="g-SUV39H1" transform="translate(462.1)"><use href="#b"/><text y="2">SUV39H1</text></g>
<g id="g-BACE2" transform="translate(485.2)"><use href="#b"/><text y="2">BACE2</text></g>
<g id="g-MAOA" transform="translate(508.3)"><use href="#b"/><text y="2">MAOA</text></g>
</g>
<g transform="translate(0,407.2)">
<g id="g-CA1" transform="translate(92.5)"><use href="#b"/><text y="2">CA1</text></g>
<g id="g-SLC7A5" transform="translate(115.6)"><use href="#b"/><text y="2">SLC7A5</text></g>
<g id="g-FGF2" transform="translate(138.7)"><use href="#b"/><text y="2">FGF2</text></g>
<g id="g-KLKB1" transform="translate(161.8)"><use href="#b"/><text y="2">KLKB1</text></g>
<g id="g-CAPN1" transform="translate(184.9)"><use href="#b"/><text y="2">CAPN1</text></g>
<g id="g-RASGRP1" transform="translate(208)"><use href="#b"/><text y="2">RASGRP1</text></g>
<g id="g-CA3" transform="translate(231.1)"><use href="#b"/><text y="2">CA3</text></g>
<g id="g-AKR1B10" transform="translate(254.2)"><use href="#b"/><text y="2">AKR1B10</text></g>
<g id="g-LGALS9" transform="translate(277.3)"><use href="#b"/><text y="2">LGALS9</text></g>
<g id="g-FURIN" transform="translate(300.4)"><use href="#b"/><text y="2">FURIN</text></g>
<g id="g-CTNNB1" transform="translate(323.5)"><use href="#b"/><text y="2">CTNNB1</text></g>
<g id="g-WDR5" transform="translate(346.6)"><use href="#b"/><text y="2">WDR5</text></g>
<g id="g-MME" transform="translate(369.7)"><use href="#b"/><text y="2">MME</text></g>
<g id="g-CASP1" transform="translate(392.8)"><use href="#b"/><text y="2">CASP1</text></g>
<g id="g-MMP3" transform="translate(415.9)"><use href="#b"/><text y="2">MMP3</text></g>
<g id="g-MAPK8" transform="translate(439)"><use href="#b"/><text y="2">MAPK8</text></g>
<g id="g-EPHB4" transform="translate(462.1)"><use href="#b"/><text y="2">EPHB4</text></g>
<g id="g-NRP1" transform="translate(485.2)"><use href="#b"/><text y="2">NRP1</text></g>
<g id="g-CPA1" transform="translate(508.3)"><use href="#b"/><text y="2">CPA1</text></g>
</g>
</g>
<g id="dms">
<g id="DM23"><circle cx="300" cy="38" r="18"/><text x="300" y="42">DM23</text></g>
<g id="DM22"><circle cx="355" cy="44" r="18"/><text x="355" y="48">DM22</text></g>
<g id="DM21"><circle cx="408" cy="61" r="18"/><text x="408" y="65">DM21</text></g>
<g id="DM20"><circle cx="456" cy="89" r="18"/><text x="456" y="93">DM20</text></g>
<g id="DM2"><circle cx="497" cy="126" r="18"/><text x="497" y="130">DM2</text></g>
<g id="DM19"><circle cx="530" cy="171" r="18"/><text x="530" y="175">DM19</text></g>
<g id="DM18"><circle cx="552" cy="221" r="18"/><text x="552" y="225">DM18</text></g>
<g id="DM17"><circle cx="564" cy="275" r="18"/><text x="564" y="279">DM17</text></g>
<g id="DM16"><circle cx="564" cy="331" r="18"/><text x="564" y="335">DM16</text></g>
<g id="DM15"><circle cx="552" cy="385" r="18"/><text x="552" y="389">DM15</text></g>
<g id="DM14"><circle cx="530" cy="436" r="18"/><text x="530" y="440">DM14</text></g>
<g id="DM13"><circle cx="497" cy="480" r="18"/><text x="497" y="484">DM13</text></g>
<g id="DM12"><circle cx="456" cy="517" r="18"/><text x="456" y="521">DM12</text></g>
<g id="DM11"><circle cx="408" cy="545" r="18"/><text x="408" y="549">DM11</text></g>
<g id="DM10"><circle cx="355" cy="562" r="18"/><text x="355" y="566">DM10</text></g>
<g id="DM1"><circle cx="300" cy="568" r="18"/><text x="300" y="572">DM1</text></g>
<g id="DM9"><circle cx="245" cy="562" r="18"/><text x="245" y="566">DM9</text></g>
<g id="DM8"><circle cx="192" cy="545" r="18"/><text x="192" y="549">DM8</text></g>
<g id="DM7"><circle cx="144" cy="517" r="18"/><text x="144" y="521">DM7</text></g>
<g id="DM6"><circle cx="103" cy="480" r="18"/><text x="103" y="484">DM6</text></g>
<g id="DM5"><circle cx="70" cy="436" r="18"/><text x="70" y="440">DM5</text></g>
<g id="DM4"><circle cx="48" cy="385" r="18"/><text x="48" y="389">DM4</text></g>
<g id="DM30"><circle cx="36" cy="331" r="18"/><text x="36" y="335">DM30</text></g>
<g id="DM3"><circle cx="36" cy="275" r="18"/><text x="36" y="279">DM3</text></g>
<g id="DM29"><circle cx="48" cy="221" r="18"/><text x="48" y="225">DM29</text></g>
<g id="DM28"><circle cx="70" cy="170" r="18"/><text x="70" y="174">DM28</text></g>
<g id="DM27"><circle cx="103" cy="126" r="18"/><text x="103" y="130">DM27</text></g>
<g id="DM26"><circle cx="144" cy="89" r="18"/><text x="144" y="93">DM26</text></g>
<g id="DM25"><circle cx="192" cy="61" r="18"/><text x="192" y="65">DM25</text></g>
<g id="DM24"><circle cx="245" cy="44" r="18"/><text x="245" y="48">DM24</text></g>
</g>
</svg>
